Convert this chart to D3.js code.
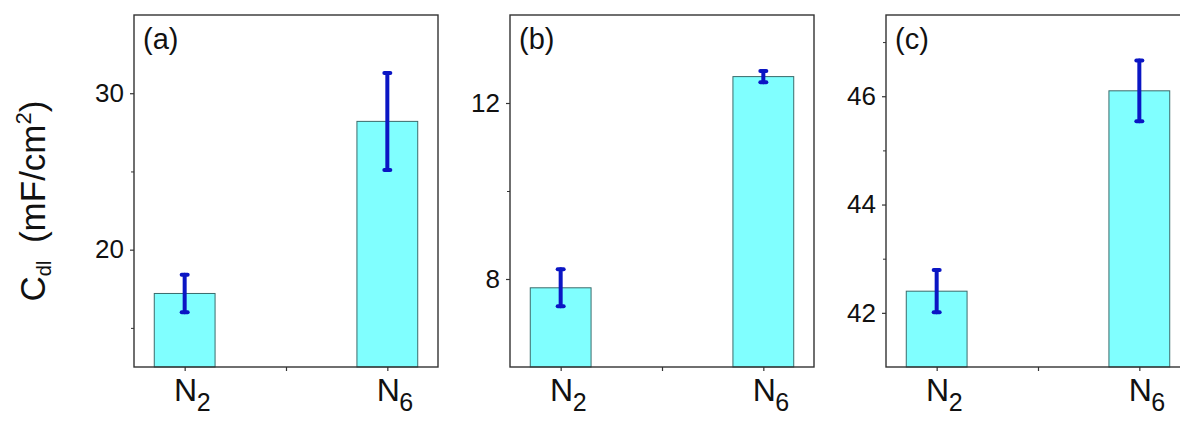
<!DOCTYPE html>
<html>
<head>
<meta charset="utf-8">
<script src="https://cdn.jsdelivr.net/npm/d3@7"></script>
<style>
  body { margin: 0; background: #fff; }
  text { font-family: Arial, "Liberation Sans", sans-serif; fill: #111; }
</style>
</head>
<body>
<script>
// data
const categories = ["N2", "N6"];
const panelNames = ["(a)", "(b)", "(c)"];

const valuesA = [17.2, 28.2];
const errorsA = [1.2, 3.1];
const valuesB = [7.8, 12.6];
const errorsB = [0.42, 0.13];
const valuesC = [42.4, 46.1];
const errorsC = [0.39, 0.56];

const domainsY = [[12.5, 35], [6, 14], [41, 47.5]];
const majorTicks = [[20, 30], [8, 12], [42, 44, 46]];
const minorTicks = [[15, 25], [10], [43, 45, 47]];

const panels = [
  { name: panelNames[0], values: valuesA, errors: errorsA, domain: domainsY[0], major: majorTicks[0], minor: minorTicks[0] },
  { name: panelNames[1], values: valuesB, errors: errorsB, domain: domainsY[1], major: majorTicks[1], minor: minorTicks[1] },
  { name: panelNames[2], values: valuesC, errors: errorsC, domain: domainsY[2], major: majorTicks[2], minor: minorTicks[2] }
];

const width = 1180;
const height = 422;
const panelW = 304;
const panelLeft = [134, 510, 886];
const plotTop = 15, plotBottom = 367;

const barFill = "#80ffff";
const barStroke = "#3a6b6b";
const errColor = "#0b16c4";
const axisColor = "#333";

const svg = d3.select("body").append("svg")
  .attr("width", width)
  .attr("height", height);

// y axis title
const title = svg.append("text")
  .attr("transform", "translate(45,201) rotate(-90)")
  .attr("text-anchor", "middle")
  .style("font-size", "35px");
title.append("tspan").text("C");
title.append("tspan").text("dl").style("font-size", "20px").attr("dy", 6);
title.append("tspan").text("\u2002(mF/cm").attr("dy", -6);
title.append("tspan").text("2").style("font-size", "22px").attr("dy", -14);
title.append("tspan").text(")").attr("dy", 14);

panels.forEach(function(p, k) {
  const g = svg.append("g").attr("transform", `translate(${panelLeft[k]},${plotTop})`);
  const h = plotBottom - plotTop;

  const x = d3.scaleLinear().domain([0.75, 2.25]).range([0, panelW]);
  const y = d3.scaleLinear().domain(p.domain).range([h, 0]);

  const data = categories.map((c, i) => ({ cat: c, pos: i + 1, v: p.values[i], e: p.errors[i] }));

  // bars
  g.selectAll("rect.bar")
    .data(data)
    .join("rect")
    .attr("class", "bar")
    .attr("x", d => x(d.pos - 0.15))
    .attr("width", d => x(d.pos + 0.15) - x(d.pos - 0.15))
    .attr("y", d => y(d.v))
    .attr("height", d => y(p.domain[0]) - y(d.v))
    .attr("fill", barFill)
    .attr("stroke", barStroke)
    .attr("stroke-width", 1);

  // error bars
  const eb = g.selectAll("g.err").data(data).join("g").attr("class", "err")
    .attr("stroke", errColor).attr("stroke-linecap", "round");
  eb.append("line")
    .attr("x1", d => x(d.pos)).attr("x2", d => x(d.pos))
    .attr("y1", d => y(d.v - d.e)).attr("y2", d => y(d.v + d.e))
    .attr("stroke-width", 4);
  [-1, 1].forEach(function(s) {
    eb.append("line")
      .attr("x1", d => x(d.pos) - 3).attr("x2", d => x(d.pos) + 3)
      .attr("y1", d => y(d.v + s * d.e)).attr("y2", d => y(d.v + s * d.e))
      .attr("stroke-width", 4);
  });

  // frame
  g.append("rect")
    .attr("x", 0).attr("y", 0)
    .attr("width", panelW).attr("height", h)
    .attr("fill", "none")
    .attr("stroke", axisColor)
    .attr("stroke-width", 1.4);

  // y axis
  const yAxis = g.append("g")
    .call(d3.axisLeft(y).tickValues(p.major).tickFormat(d3.format("d"))
      .tickSize(4).tickSizeOuter(0).tickPadding(6));
  yAxis.select(".domain").remove();
  yAxis.selectAll("line").attr("stroke", axisColor).attr("stroke-width", 1.2);
  yAxis.selectAll("text").style("font-size", "26px").attr("fill", "#111");

  const yMinor = g.append("g")
    .call(d3.axisLeft(y).tickValues(p.minor).tickSize(3).tickFormat(""));
  yMinor.select(".domain").remove();
  yMinor.selectAll("line").attr("stroke", axisColor).attr("stroke-width", 1);

  // x axis ticks
  const xAxis = g.append("g")
    .attr("transform", `translate(0,${h})`)
    .call(d3.axisBottom(x).tickValues([1, 1.5, 2]).tickSize(4).tickFormat(""));
  xAxis.select(".domain").remove();
  xAxis.selectAll("line").attr("stroke", axisColor).attr("stroke-width", 1.2);

  // category labels: letter centred on the tick, subscript to its right
  g.selectAll("text.cat")
    .data(data)
    .join("text")
    .attr("class", "cat")
    .attr("x", d => x(d.pos) + 1)
    .attr("y", h + 34)
    .attr("text-anchor", "middle")
    .style("font-size", "32px")
    .text(d => d.cat[0]);
  g.selectAll("text.sub")
    .data(data)
    .join("text")
    .attr("class", "sub")
    .attr("x", d => x(d.pos) + 12)
    .attr("y", h + 44)
    .style("font-size", "25px")
    .text(d => d.cat.slice(1));

  // panel letter
  g.append("text")
    .attr("x", 9)
    .attr("y", 34)
    .style("font-size", "29px")
    .text(p.name);
});
</script>
</body>
</html>
